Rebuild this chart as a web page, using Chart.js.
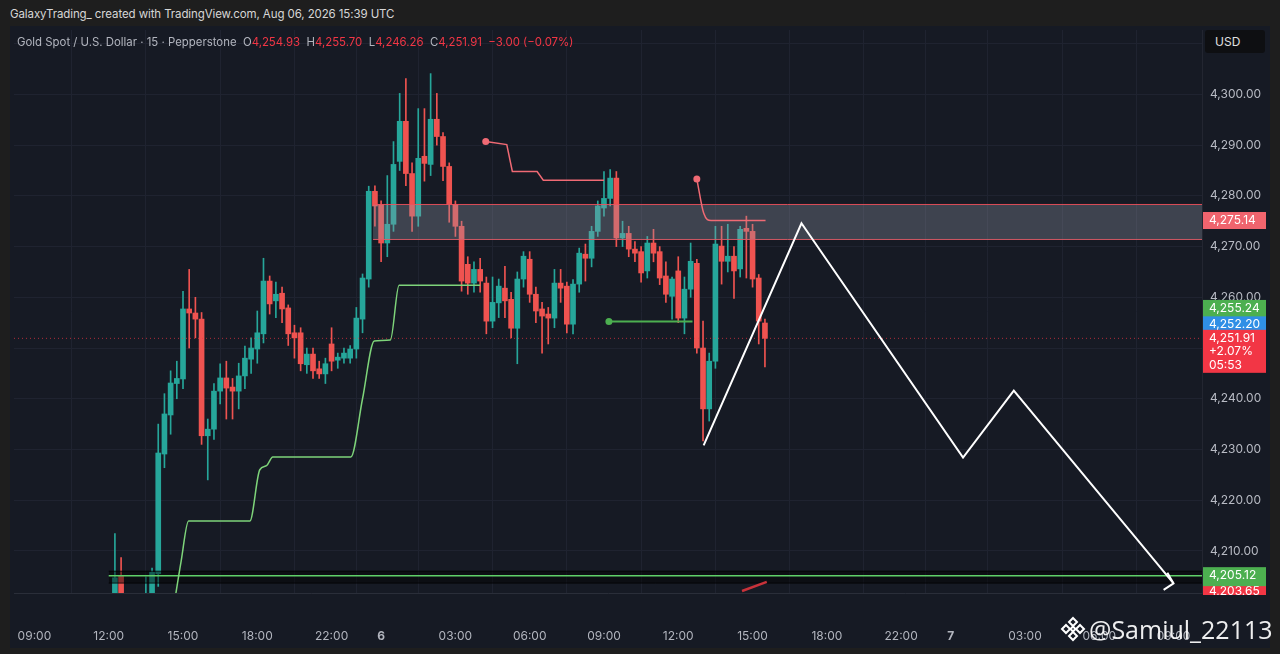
<!DOCTYPE html>
<html>
<head>
<meta charset="utf-8">
<script src="https://cdn.jsdelivr.net/npm/chart.js@4.4.1/dist/chart.umd.min.js"></script>
<style>
  body { margin: 0; width: 1280px; height: 654px; overflow: hidden; background: #1e1e1e; position: relative; font-family: Inter, "Noto Sans", sans-serif; }
  #hdr { position: absolute; left: 10px; top: 7px; font-size: 11.5px; color: #d6d6d6; letter-spacing: -0.1px; }
  #pane { position: absolute; left: 10px; top: 26px; width: 1260px; height: 622px; background: #161a24; }
  #c { position: absolute; left: 0; top: 0; }
  #legend { position: absolute; left: 7px; top: 9px; font-size: 11.4px; color: #b2b5be; white-space: nowrap; }
  #legend .v { color: #f23645; }
  #usd { position: absolute; left: 1195px; top: 4px; width: 60px; height: 23px; line-height: 23px; background: #0e0f12; border-radius: 3px; color: #e0e0e0; font-size: 12px; padding-left: 10px; box-sizing: border-box; }
  #wm { position: absolute; left: 1050px; top: 586px; color: rgba(255,255,255,0.93); font-family: "Open Sans", sans-serif; font-size: 25px; white-space: nowrap; display: flex; align-items: center; }
  #wm svg { margin-right: 3px; }
</style>
</head>
<body>
<div id="hdr">GalaxyTrading_ created with TradingView.com, Aug 06, 2026 15:39 UTC</div>
<div id="pane">
  <canvas id="c" width="1260" height="622"></canvas>
  <div id="legend">Gold Spot / U.S. Dollar · 15 · Pepperstone&nbsp; O<span class="v">4,254.93</span>&nbsp; H<span class="v">4,255.70</span>&nbsp; L<span class="v">4,246.26</span>&nbsp; C<span class="v">4,251.91</span>&nbsp; <span class="v">−3.00 (−0.07%)</span></div>
  <div id="usd">USD</div>
  <div id="wm"><svg width="26" height="26" viewBox="0 0 26 26" fill="none" stroke="white" stroke-width="2"><path d="M13 2 L17 6 L13 10 L9 6 Z"/><path d="M13 16 L17 20 L13 24 L9 20 Z"/><path d="M6 9 L10 13 L6 17 L2 13 Z"/><path d="M20 9 L24 13 L20 17 L16 13 Z"/><path d="M13 10.5 L15.5 13 L13 15.5 L10.5 13 Z"/></svg>@Samiul_22113</div>
</div>
<script>
// 15 minute candles, slot 0 = 12:00 on day 5 (gold pauses 21:00-22:00)
const firstSlot = 1;
const opens = [4198, 4205.1, 4199, 4194, 4191, 4196, 4199, 4205.5, 4229.1, 4236.8,
  4243, 4243.9, 4257.7, 4256.9, 4255.7, 4232.7, 4234, 4241.5, 4244.1, 4242.3,
  4241.5, 4244.5, 4247.8, 4249.8, 4252.8, 4263.2, 4259.3, 4260.8, 4257.9, 4253,
  4253, 4246.7, 4248.8, 4245.9, 4244.9, 4250.8, 4247.6, 4248, 4248, 4249.8,
  4255.7, 4263.6, 4280.9, 4278.3, 4270.7, 4274.4, 4286.8, 4294.7, 4284.4, 4276,
  4287.8, 4286.2, 4295.1, 4291.7, 4285.8, 4278.3, 4274, 4266.5, 4262.8, 4265.5,
  4262.8, 4255.3, 4258.9, 4261.8, 4259.6, 4253.9, 4263.6, 4267.5, 4260.6, 4257.7,
  4256.7, 4255.9, 4262.8, 4262.2, 4254.7, 4262.6, 4268.5, 4267.7, 4273, 4277.6,
  4279.5, 4283.5, 4271.7, 4272.6, 4269.5, 4269, 4265.2, 4270.7, 4269, 4264.2,
  4260.2, 4265.2, 4255.9, 4261.6, 4266.7, 4250, 4238, 4247.4, 4270.1, 4267.1,
  4268.1, 4265.6, 4273.6, 4273, 4263.8, 4254.93];
const highs = [4213.4, 4208.7, 4200.5, 4197, 4198, 4204.9, 4206.6, 4235, 4241, 4245.5,
  4247.4, 4261.2, 4265.5, 4260, 4257, 4236, 4243, 4246.9, 4247.4, 4244,
  4247, 4250.4, 4252, 4257.3, 4267.7, 4264.2, 4263, 4262, 4258.5, 4254.5,
  4254, 4250, 4250, 4247.4, 4248, 4254, 4249, 4250, 4250.5, 4258,
  4264.6, 4281.9, 4282, 4279, 4284, 4290.7, 4300.2, 4303.1, 4286.5, 4297.2,
  4297.2, 4304.1, 4300.2, 4292.5, 4286.5, 4279, 4275, 4268, 4267, 4267.7,
  4264, 4264, 4263.6, 4266.1, 4261, 4265, 4269, 4269, 4262, 4259,
  4258, 4265.5, 4265.5, 4263, 4263.5, 4269.7, 4270.5, 4274, 4279, 4284.8,
  4285.2, 4284.8, 4275, 4274, 4271, 4270, 4272, 4273.4, 4270, 4267,
  4264, 4268, 4264, 4270.7, 4267.5, 4255.3, 4249, 4274, 4274, 4274.4,
  4270, 4274, 4276, 4274.4, 4264.5, 4255.70];
const lows = [4196, 4196, 4192, 4188, 4189, 4194, 4197, 4203, 4226.4, 4233,
  4240, 4242, 4250, 4252, 4231, 4224, 4232, 4239, 4236, 4236,
  4238, 4242, 4245, 4247, 4251, 4256.7, 4256, 4255, 4250.5, 4248,
  4245.5, 4245, 4244, 4244, 4243, 4245.5, 4246, 4247, 4247, 4248,
  4253, 4262, 4274, 4267, 4268, 4273, 4285, 4282, 4273, 4274,
  4282.9, 4284, 4290, 4283, 4274.8, 4272, 4261.2, 4260.6, 4261, 4261,
  4252.8, 4254, 4256, 4256, 4252, 4246.9, 4262, 4259, 4255, 4249,
  4250.8, 4254, 4259, 4253, 4252.8, 4261, 4263.2, 4266, 4272, 4276,
  4278, 4270, 4270, 4268, 4267, 4263, 4263.8, 4267, 4262.5, 4259,
  4255.7, 4255, 4252.8, 4260, 4249, 4231.7, 4235.6, 4246, 4262.6, 4265,
  4259.8, 4264, 4263.8, 4262, 4250.8, 4246.26];
const closes = [4204.7, 4199, 4194, 4191, 4196, 4199, 4205.8, 4229.3, 4237, 4243.1,
  4244, 4257.7, 4256.9, 4255.7, 4232.7, 4234, 4241.5, 4244.1, 4242.1, 4241.5,
  4244.5, 4248, 4250, 4253, 4263.2, 4258.7, 4260.6, 4257.7, 4252.8, 4252,
  4246.9, 4248.8, 4245.5, 4244.9, 4246.9, 4247.4, 4248.2, 4249, 4249.8, 4255.9,
  4263.8, 4280.9, 4278, 4270.7, 4274.4, 4286.2, 4294.7, 4284.4, 4276, 4287.4,
  4286.4, 4295.1, 4291.7, 4285.8, 4278.3, 4274, 4263.2, 4262.8, 4265.5, 4263.2,
  4255.3, 4259, 4262.2, 4259.3, 4253.9, 4263.6, 4268.1, 4260.6, 4257.3, 4256.3,
  4255.9, 4262.8, 4261.8, 4254.7, 4262.6, 4268.7, 4267.7, 4273, 4278, 4279.5,
  4283.5, 4271.7, 4272.6, 4269.5, 4268.7, 4264.8, 4270.7, 4268.7, 4263.8, 4260.6,
  4263.6, 4255.9, 4261.6, 4267.1, 4250, 4238, 4247.4, 4270.5, 4267.1, 4268.1,
  4265.2, 4273.4, 4273, 4263.6, 4255.3, 4251.91];

// time axis
const xTickSlots = [-12, 0, 12, 24, 36, 44, 56, 68, 80, 92, 104, 116, 128, 136, 148, 160, 172];
const xTickLabels = ['09:00', '12:00', '15:00', '18:00', '22:00', '6', '03:00', '06:00', '09:00',
  '12:00', '15:00', '18:00', '22:00', '7', '03:00', '06:00', '09:00'];
const dayLabels = ['6', '7'];
const yTickValues = [4210, 4220, 4230, 4240, 4250, 4260, 4270, 4280, 4290, 4300, 4310];

// drawings
const zoneStartSlot = 42.7;
const zoneTop = 4278.3;
const zoneBottom = 4271.4;
const zoneTagPrice = 4275.14;
const supportStartSlot = 0;
const supportLevel = 4205.12;
const supportBandTop = 4206.0;
const supportBandBottom = 4203.65;
const lastPrice = 4251.91;
const trailSlots = [10.5, 11.7, 12.9, 22.8, 24.4, 25.5, 26.5, 39.1, 41, 42.9, 45.5, 46.9, 60];
const trailPrices = [4199, 4208, 4215.9, 4215.9, 4226, 4226.8, 4228.5, 4228.5, 4240, 4251.4, 4251.6, 4262.4, 4262.4];
const stopSlots1 = [60.9, 64.3, 65.2, 69.2, 70.2, 80];
const stopPrices1 = [4290.7, 4290.1, 4284.8, 4284.8, 4283.1, 4283.1];
const stopSlots2 = [95, 96.1, 97.3, 106.1];
const stopPrices2 = [4283.3, 4276.6, 4275.14, 4275.14];
const levelSlots = [80.8, 94.3];
const levelPrice = 4255.24;
const pathSlots = [96.1, 111.9, 138.0, 146.2, 172.0];
const pathPrices = [4230.8, 4274.6, 4228.4, 4241.6, 4203.6];
const arrowSlots = [171.0, 172.0, 170.4];
const arrowPrices = [4205.7, 4203.6, 4202.3];
const tickMarkSlots = [102.3, 106.3];
const tickMarkPrices = [4202.1, 4203.9];
const vwapPrice = 4252.20;
const changeText = '+2.07%';
const countdownText = '05:53';

const X_MIN = -15.3, X_MAX = 176.6;
const UP = '#26a69a', DOWN = '#ef5350';

const slots = opens.map((_, i) => firstSlot + i);
const isUp = opens.map((o, i) => closes[i] >= o);
const colors = isUp.map(u => u ? UP : DOWN);

function pts(xs, ys) { return xs.map((x, i) => ({ x: x, y: ys[i] })); }
function flat(x0, y) { return [{ x: x0, y: y }, { x: X_MAX, y: y }]; }
const fmt = v => v.toLocaleString('en-US', { minimumFractionDigits: 2, maximumFractionDigits: 2 });

const lineBase = { type: 'line', pointRadius: 0, borderWidth: 1.5, fill: false, clip: 0 };

const priceTags = {
  id: 'priceTags',
  afterDraw(chart) {
    const { ctx, scales: { y }, chartArea } = chart;
    const left = y.left + 1, w = 63;
    ctx.save();
    ctx.beginPath();
    ctx.rect(y.left, chartArea.top, y.width, chartArea.bottom - chartArea.top + 2);
    ctx.clip();
    ctx.font = '12px Inter, "Noto Sans", sans-serif';
    ctx.textBaseline = 'middle';
    function tag(value, lines, bg, dy, h) {
      const cy = y.getPixelForValue(value) + dy;
      const top = cy - 8.5;
      ctx.fillStyle = bg;
      ctx.fillRect(left, top, w, h);
      ctx.fillStyle = '#ffffff';
      lines.forEach((t, k) => ctx.fillText(t, left + 6, top + 8.5 + k * 13.5));
    }
    tag(zoneTagPrice, [fmt(zoneTagPrice)], '#f0646e', 0, 17);
    tag(levelPrice, [fmt(levelPrice)], '#4caf50', -13, 19);
    tag(vwapPrice, [fmt(vwapPrice)], '#2f8fe6', -12, 17);
    tag(lastPrice, [fmt(lastPrice), changeText, countdownText], '#f23645', 0, 43);
    tag(supportBandBottom, [fmt(supportBandBottom)], '#f23645', 8, 17);
    tag(supportLevel, [fmt(supportLevel)], '#4caf50', 0, 19);
    ctx.restore();
  }
};

new Chart(document.getElementById('c'), {
  type: 'bar',
  data: {
    datasets: [
      {
        type: 'bar', label: 'wicks', order: 10, grouped: false, clip: 0,
        data: slots.map((s, i) => ({ x: s, y: [lows[i], highs[i]] })),
        backgroundColor: colors, barThickness: 1, borderWidth: 0
      },
      {
        type: 'bar', label: 'bodies', order: 9, grouped: false, clip: 0, minBarLength: 1,
        data: slots.map((s, i) => ({ x: s, y: [Math.min(opens[i], closes[i]), Math.max(opens[i], closes[i])] })),
        backgroundColor: colors, barThickness: 5, borderWidth: 0
      },
      Object.assign({}, lineBase, { label: 'zoneBottom', order: 8, data: flat(zoneStartSlot, zoneBottom), borderColor: 'rgba(240,80,92,0.9)', borderWidth: 1 }),
      Object.assign({}, lineBase, { label: 'zoneTop', order: 7, data: flat(zoneStartSlot, zoneTop), borderColor: 'rgba(240,80,92,0.9)', borderWidth: 1, fill: '-1', backgroundColor: 'rgba(150,154,170,0.32)' }),
      Object.assign({}, lineBase, { label: 'bandBottom', order: 6, data: flat(supportStartSlot, supportBandBottom), borderColor: 'rgba(0,0,0,0.8)', borderWidth: 1 }),
      Object.assign({}, lineBase, { label: 'bandTop', order: 6, data: flat(supportStartSlot, supportBandTop), borderColor: 'rgba(0,0,0,0.8)', borderWidth: 1, fill: '-1', backgroundColor: 'rgba(0,0,0,0.45)' }),
      Object.assign({}, lineBase, { label: 'support', order: 5, data: flat(supportStartSlot, supportLevel), borderColor: '#5fd068', borderWidth: 1.5 }),
      Object.assign({}, lineBase, { label: 'last', order: 5, data: [{ x: X_MIN, y: lastPrice }, { x: X_MAX, y: lastPrice }], borderColor: 'rgba(242,54,69,0.7)', borderWidth: 1, borderDash: [1, 3] }),
      Object.assign({}, lineBase, { label: 'trail', order: 4, data: pts(trailSlots, trailPrices), borderColor: '#7ed47a', cubicInterpolationMode: 'monotone' }),
      Object.assign({}, lineBase, { label: 'stop1', order: 4, data: pts(stopSlots1, stopPrices1), borderColor: '#f06a74',
        pointRadius: c => c.dataIndex === 0 ? 3.5 : 0, pointBackgroundColor: '#f06a74', pointBorderWidth: 0 }),
      Object.assign({}, lineBase, { label: 'stop2', order: 4, data: pts(stopSlots2, stopPrices2), borderColor: '#f06a74', cubicInterpolationMode: 'monotone',
        pointRadius: c => c.dataIndex === 0 ? 3.5 : 0, pointBackgroundColor: '#f06a74', pointBorderWidth: 0 }),
      Object.assign({}, lineBase, { label: 'level', order: 4, data: pts(levelSlots, [levelPrice, levelPrice]), borderColor: '#4caf50', borderWidth: 2,
        pointRadius: c => c.dataIndex === 0 ? 3.5 : 0, pointBackgroundColor: '#4caf50', pointBorderWidth: 0 }),
      Object.assign({}, lineBase, { label: 'path', order: 1, data: pts(pathSlots, pathPrices), borderColor: '#ffffff', borderWidth: 2 }),
      Object.assign({}, lineBase, { label: 'arrow', order: 1, data: pts(arrowSlots, arrowPrices), borderColor: '#ffffff', borderWidth: 2 }),
      Object.assign({}, lineBase, { label: 'mark', order: 1, data: pts(tickMarkSlots, tickMarkPrices), borderColor: '#c8323a', borderWidth: 2.5 })
    ]
  },
  options: {
    responsive: false,
    animation: false,
    events: [],
    layout: { padding: { top: 2, left: 0, right: 0, bottom: 0 } },
    plugins: { legend: { display: false }, tooltip: { enabled: false } },
    scales: {
      x: {
        type: 'linear', min: X_MIN, max: X_MAX, offset: false,
        afterBuildTicks: axis => { axis.ticks = xTickSlots.map(v => ({ value: v })); },
        afterFit: axis => { axis.height = 55; axis.paddingLeft = 0; axis.paddingRight = 0; },
        grid: { color: '#1f2330', drawTicks: false },
        border: { color: '#2a2e39' },
        ticks: {
          padding: 36, maxRotation: 0, autoSkip: false, color: '#b2b5be',
          font: c => ({ family: 'Inter, "Noto Sans", sans-serif', size: 12, weight: c.tick && dayLabels.includes(xTickLabels[xTickSlots.indexOf(c.tick.value)]) ? 'bold' : 'normal' }),
          callback: (v, i) => xTickLabels[i]
        }
      },
      y: {
        position: 'right', min: 4201.7, max: 4312.7,
        afterBuildTicks: axis => { axis.ticks = yTickValues.map(v => ({ value: v })); },
        afterFit: axis => { axis.width = 68; axis.paddingTop = 0; axis.paddingBottom = 0; },
        grid: { color: '#1f2330', drawTicks: false },
        border: { color: '#232631' },
        ticks: {
          padding: 8, color: '#b8bbc4',
          font: { family: 'Inter, "Noto Sans", sans-serif', size: 12 },
          callback: v => fmt(v)
        }
      }
    }
  },
  plugins: [priceTags]
});
</script>
</body>
</html>
